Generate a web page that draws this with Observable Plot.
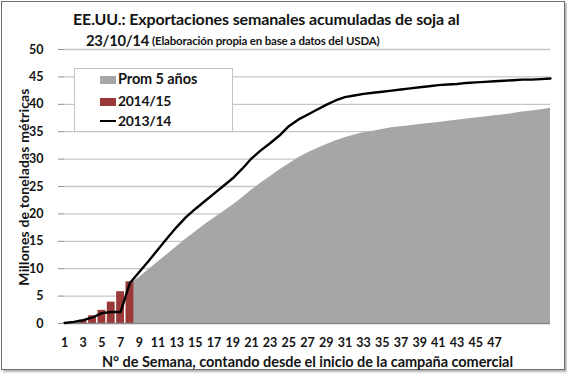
<!DOCTYPE html>
<html><head><meta charset="utf-8">
<script src="https://cdn.jsdelivr.net/npm/d3@7"></script>
<script src="https://cdn.jsdelivr.net/npm/@observablehq/plot@0.6"></script>
<style>
body{margin:0;background:#fff;}
#wrap{position:relative;width:567px;height:376px;font-family:Lato,"Open Sans",sans-serif;font-weight:bold;color:#141414;overflow:hidden;}
#frame{position:absolute;left:1px;top:1px;width:562px;height:367px;border:1px solid #6e6e6e;box-shadow:2px 2px 2px #b0b0b0;}
#chart{position:absolute;left:0;top:0;}
.t{position:absolute;white-space:nowrap;line-height:1;display:inline-block;}
#legend{position:absolute;left:74px;top:68px;width:157px;height:62px;border:1px solid #c4c4c4;background:#fff;}
.sw{position:absolute;left:25px;width:16px;height:8px;}
.lt{position:absolute;left:43px;white-space:nowrap;line-height:1;font-size:14.5px;display:inline-block;}
</style></head><body>
<div id="wrap">
  <div id="frame"></div>
  <div id="chart"></div>
  <div class="t" id="title1" style="font-size:16px">EE.UU.: Exportaciones semanales acumuladas de soja al</div>
  <div class="t" id="t2a" style="font-size:16px">23/10/14</div>
  <div class="t" id="t2b" style="font-size:11.5px">(Elaboración propia en base a datos del USDA)</div>
  <div class="t" id="ylab" style="font-size:14px">Millones de toneladas métricas</div>
  <div class="t" id="xlab" style="font-size:14.5px">N° de Semana, contando desde el inicio de la campaña comercial</div>
  <div id="legend">
    <div class="sw" style="top:7px;background:#a6a6a6"></div><div class="lt" id="l1">Prom 5 años</div>
    <div class="sw" style="top:29px;background:#9b3838"></div><div class="lt" id="l2">2014/15</div>
    <div class="sw" style="top:51px;height:2px;background:#000"></div><div class="lt" id="l3">2013/14</div>
  </div>
</div>
<script>
// ---- data ----
const weeks = d3.range(1, 54);
const line2013 = [0.1,0.3,0.6,1.1,1.9,2.1,2.1,7.4,9.4,11.4,
  13.5,15.6,17.6,19.4,20.9,22.3,23.7,25.1,26.5,28.2,
  30.1,31.6,32.9,34.3,36.0,37.2,38.1,39.0,39.9,40.7,
  41.3,41.6,41.9,42.1,42.3,42.5,42.7,42.9,43.1,43.3,
  43.5,43.6,43.7,43.9,44.0,44.1,44.2,44.3,44.4,44.5,
  44.5,44.6,44.7];
const avgWeeks = d3.range(8, 54);
const avg5 = [7.2,8.4,9.8,11.2,12.6,14.0,15.4,16.7,18.0,19.2,
  20.4,21.6,22.9,24.3,25.6,26.8,28.0,29.1,30.2,31.1,
  31.9,32.6,33.3,33.9,34.4,34.8,35.1,35.4,35.7,35.9,
  36.1,36.3,36.5,36.7,36.9,37.1,37.3,37.5,37.7,37.9,
  38.1,38.3,38.6,38.8,39.0,39.3];
const barWeeks = [2,3,4,5,6,7,8];
const bars2014 = [0.2,0.6,1.4,2.4,3.9,5.8,7.6];
const yTicks = [0,5,10,15,20,25,30,35,40,45,50];
const xTicks = d3.range(1, 48, 2);

const lineData = weeks.map((w,i)=>({week:w, value:line2013[i]}));
const areaData = avgWeeks.map((w,i)=>({week:w, value:avg5[i]}));
const barData = barWeeks.map((w,i)=>({week:w, value:bars2014[i]}));

const chart = Plot.plot({
  width: 567, height: 376,
  marginLeft: 64, marginRight: 17, marginTop: 49, marginBottom: 53,
  style: {fontFamily: "Lato, 'Open Sans', sans-serif", fontSize: "12.5px", fontWeight: "bold", color: "#141414", background: "transparent"},
  x: {type: "linear", domain: [1, 53]},
  y: {domain: [0, 50]},
  marks: [
    Plot.ruleY(yTicks.filter(d => d > 0), {stroke: "#c6c6c6", strokeWidth: 1.3}),
    Plot.areaY(areaData, {x: "week", y: "value", fill: "#a6a6a6"}),
    Plot.rectY(barData, {x1: d => d.week - 0.42, x2: d => d.week + 0.42, y: "value", fill: "#9b3838"}),
    Plot.ruleY([0], {stroke: "#868686", strokeWidth: 1.3}),
    Plot.lineY(lineData, {x: "week", y: "value", stroke: "#000", strokeWidth: 2.4}),
    Plot.axisY({ticks: yTicks, tickSize: 6, tickPadding: 15, stroke: "#8c8c8c", label: null, tickFormat: d => d}),
    Plot.axisX({ticks: xTicks, tickSize: 0, tickPadding: 15, label: null, tickFormat: d => d})
  ]
});
document.getElementById("chart").appendChild(chart);

// fit text to a target width: mild letter-spacing first, then font size
function fit(el, w){
  const n = el.textContent.length;
  let ls = (w - el.offsetWidth) / n;
  if (ls < -0.3) ls = -0.3;
  if (ls > 0.6) ls = 0.6;
  el.style.letterSpacing = ls + "px";
  const fs = parseFloat(getComputedStyle(el).fontSize);
  el.style.fontSize = (fs * w / el.offsetWidth) + "px";
}
function place(id, cx, cy, w, rot){
  const el = document.getElementById(id);
  fit(el, w);
  el.style.left = (cx - el.offsetWidth/2) + "px";
  el.style.top = (cy - el.offsetHeight/2) + "px";
  if (rot) el.style.transform = "rotate(-90deg)";
}
function placeL(id, x, cy, w){
  const el = document.getElementById(id);
  fit(el, w);
  el.style.left = x + "px";
  el.style.top = (cy - el.offsetHeight/2) + "px";
}
place("title1", 266.5, 18.5, 387);
placeL("t2a", 86, 40, 63);
placeL("t2b", 152, 41, 228);
place("ylab", 23, 187, 197, true);
place("xlab", 307.5, 362, 411);
fit(document.getElementById("l1"), 79);
fit(document.getElementById("l2"), 53);
fit(document.getElementById("l3"), 53);
[["l1",79-68],["l2",101-68],["l3",121-68]].forEach(([id,cy])=>{
  const el=document.getElementById(id); el.style.top=(cy - el.offsetHeight/2 - 1)+"px";
});
</script>
</body></html>
